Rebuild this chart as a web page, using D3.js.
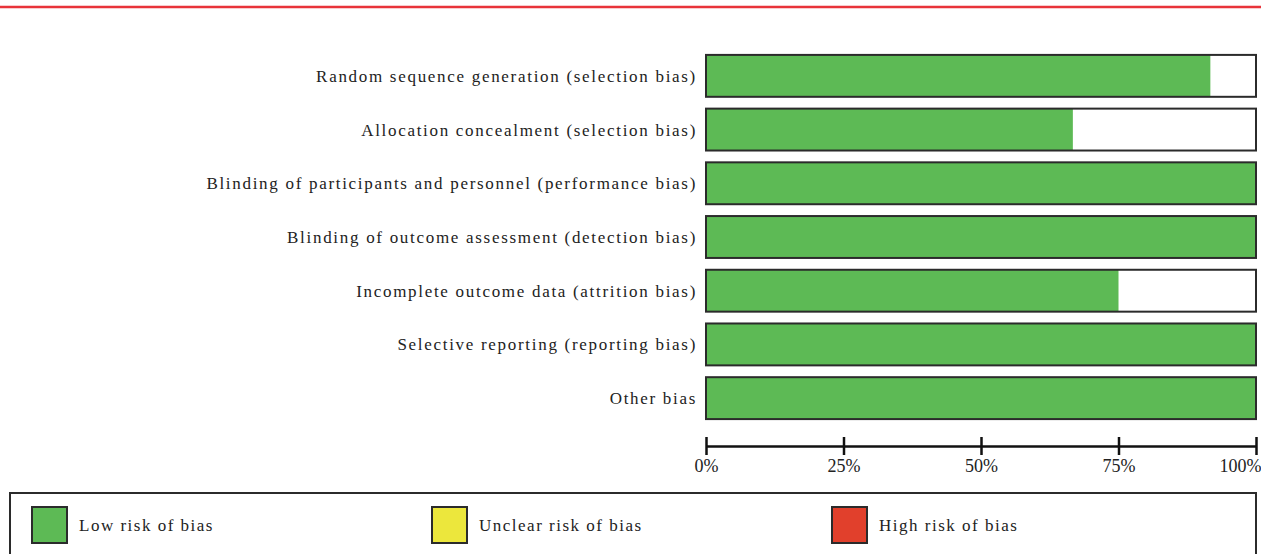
<!DOCTYPE html>
<html>
<head>
<meta charset="utf-8">
<script src="https://cdn.jsdelivr.net/npm/d3@7"></script>
<style>
  html, body { margin: 0; padding: 0; background: #fff; }
  svg { display: block; }
  text { font-family: "Liberation Serif", "DejaVu Serif", serif; fill: #222; }
</style>
</head>
<body>
<svg id="chart" width="1261" height="554"></svg>
<script>
// risk of bias items, share of studies rated low risk (0..1)
const domains = [
  "Random sequence generation (selection bias)",
  "Allocation concealment (selection bias)",
  "Blinding of participants and personnel (performance bias)",
  "Blinding of outcome assessment (detection bias)",
  "Incomplete outcome data (attrition bias)",
  "Selective reporting (reporting bias)",
  "Other bias"
];
const lowRisk = [0.917, 0.667, 1, 1, 0.75, 1, 1];
const tickValues = [0, 0.25, 0.5, 0.75, 1];
const legendLabels = ["Low risk of bias", "Unclear risk of bias", "High risk of bias"];
const legendColors = ["#5dba55", "#ece73c", "#e1402c"];

const svg = d3.select("#chart");

// red rule across the top
svg.append("line")
  .attr("x1", 0).attr("x2", 1261)
  .attr("y1", 7).attr("y2", 7)
  .attr("stroke", "#e8333a").attr("stroke-width", 2.5);

const x = d3.scaleLinear().domain([0, 1]).range([706, 1256]);
const y = d3.scaleBand().domain(domains).range([49, 425]).paddingInner(0.22).paddingOuter(0.11);

const rows = svg.append("g").selectAll("g")
  .data(domains)
  .join("g");

// white backgrounds (unclear / rest)
rows.append("rect")
  .attr("x", x(0))
  .attr("y", d => y(d))
  .attr("width", x(1) - x(0))
  .attr("height", y.bandwidth())
  .attr("fill", "#fff");

rows.append("rect")
  .attr("x", x(0))
  .attr("y", d => y(d))
  .attr("width", (d, i) => x(lowRisk[i]) - x(0))
  .attr("height", y.bandwidth())
  .attr("fill", legendColors[0]);

rows.append("rect")
  .attr("x", x(0))
  .attr("y", d => y(d))
  .attr("width", x(1) - x(0))
  .attr("height", y.bandwidth())
  .attr("fill", "none")
  .attr("stroke", "#2b2b2b")
  .attr("stroke-width", 2);

rows.append("text")
  .attr("x", 697)
  .attr("y", d => y(d) + y.bandwidth() / 2)
  .attr("dy", "0.35em")
  .attr("text-anchor", "end")
  .attr("font-size", 17)
  .attr("letter-spacing", 1.7)
  .text(d => d);

// percent axis
const xAxis = d3.axisBottom(x)
  .tickValues(tickValues)
  .tickFormat(d3.format(".0%"))
  .tickSizeInner(0)
  .tickSizeOuter(0);

const axisG = svg.append("g")
  .attr("transform", "translate(0,446)")
  .call(xAxis);
axisG.select(".domain").attr("stroke", "#111").attr("stroke-width", 2.5);
axisG.selectAll(".tick line").remove();
axisG.selectAll(".tick").append("line")
  .attr("y1", -9).attr("y2", 9)
  .attr("stroke", "#111").attr("stroke-width", 2.5);
axisG.selectAll(".tick text")
  .attr("y", 13)
  .attr("dy", "0.71em")
  .attr("font-size", 18)
  .attr("font-family", "Liberation Serif, serif")
  .attr("fill", "#222")
  .attr("text-anchor", d => d === 1 ? "end" : "middle")
  .attr("x", d => d === 1 ? 5 : 0);

// legend
svg.append("rect")
  .attr("x", 10).attr("y", 493)
  .attr("width", 1246).attr("height", 70)
  .attr("fill", "#fff")
  .attr("stroke", "#2b2b2b").attr("stroke-width", 2);

const legendX = d3.scalePoint().domain(legendLabels).range([32, 832]);

const items = svg.append("g").selectAll("g")
  .data(legendLabels)
  .join("g")
  .attr("transform", d => `translate(${legendX(d)},507)`);

items.append("rect")
  .attr("width", 35).attr("height", 36)
  .attr("fill", (d, i) => legendColors[i])
  .attr("stroke", "#2b2b2b").attr("stroke-width", 2);

items.append("text")
  .attr("x", 47).attr("y", 18)
  .attr("dy", "0.35em")
  .attr("font-size", 17)
  .attr("letter-spacing", 1.5)
  .text(d => d);
</script>
</body>
</html>
